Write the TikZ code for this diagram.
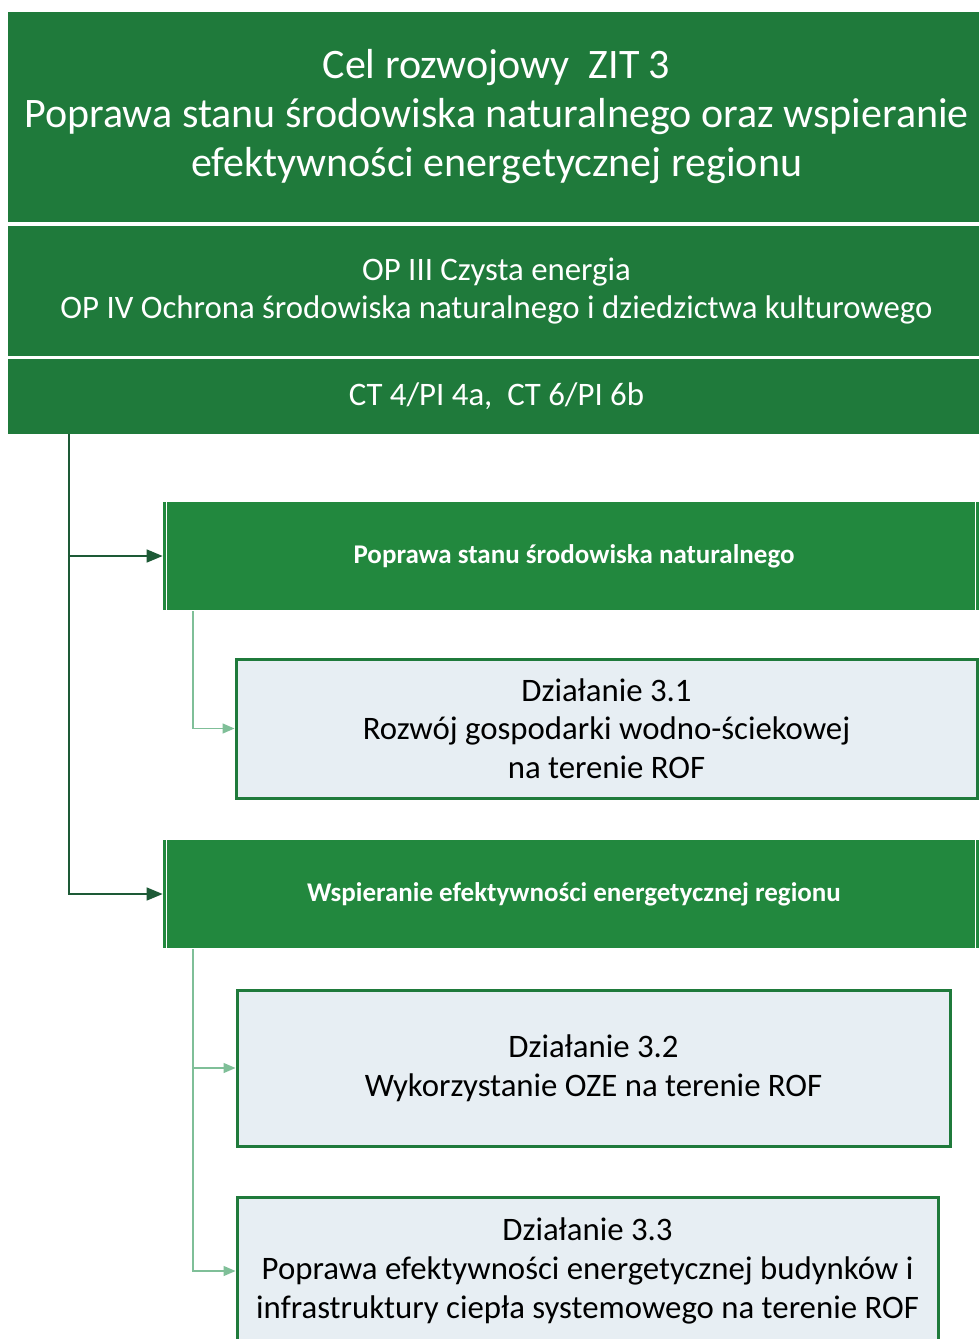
\documentclass[tikz,border=0pt]{standalone}
\usepackage{fontspec}
\setmainfont{Carlito}
\usetikzlibrary{arrows.meta,positioning}
\definecolor{zitgreen}{HTML}{1F7A3B}
\definecolor{goalgreen}{HTML}{22883E}
\definecolor{trunkgreen}{HTML}{1D5A36}
\definecolor{subgreen}{HTML}{7FBF98}
\definecolor{actionfill}{HTML}{E7EEF3}
\tikzstyle{header}=[
	rectangle,
	fill=zitgreen,
	text=white,
	align=center,
	inner sep=0pt,
	minimum width=488.5pt
]
\tikzstyle{goal}=[
	rectangle,
	fill=goalgreen,
	text=white,
	inner sep=0pt,
	font=\bfseries\fontsize{13.5}{16}\selectfont,
	minimum width=411pt,
	minimum height=54pt
]
\tikzstyle{action}=[
	rectangle,
	draw=zitgreen,
	line width=1.5pt,
	fill=actionfill,
	align=center,
	inner sep=0pt,
	font=\fontsize{16.4}{19.3}\selectfont
]
\tikzstyle{trunk}=[
	->,
	>={Triangle[length=8pt,width=6.5pt]},
	draw=trunkgreen,
	line width=0.8pt
]
\tikzstyle{branch}=[
	->,
	>={Triangle[length=6pt,width=5pt]},
	draw=subgreen,
	line width=0.7pt
]

\begin{document}
\begin{tikzpicture}[x=0.5pt,y=-0.5pt]
\clip (0,0) rectangle (979,1339);
\fill[white] (0,0) rectangle (979,1339);
% headers
\node [header, minimum height=105pt, font=\fontsize{21}{24.5}\selectfont] (cel) at (496.5,117)
	{Cel rozwojowy\ \ ZIT 3\\Poprawa stanu środowiska naturalnego oraz wspieranie\\efektywności energetycznej regionu};
\node [header, minimum height=65pt, font=\fontsize{16.4}{19}\selectfont] (op) at (496.5,291)
	{OP III Czysta energia\\OP IV Ochrona środowiska naturalnego i dziedzictwa kulturowego};
\node [header, minimum height=37.5pt, font=\fontsize{16.4}{19}\selectfont] (ct) at (496.5,396.5)
	{CT 4/PI 4a,\ \ CT 6/PI 6b};
% goals
\node [goal] (celA) at (574,556) {Poprawa stanu środowiska naturalnego};
\node [goal] (celB) at (574,894) {Wspieranie efektywności energetycznej regionu};
\foreach \g in {celA,celB} {
	\draw[white, line width=0.6pt] ([xshift=2pt]\g.north west) -- ([xshift=2pt]\g.south west);
	\draw[white, line width=0.6pt] ([xshift=-5pt]\g.north east) -- ([xshift=-5pt]\g.south east);
}
% actions
\node [action, minimum width=370.5pt, minimum height=69.5pt] (d31) at (606.5,728.5)
	{Działanie 3.1\\Rozwój gospodarki wodno-ściekowej\\na terenie ROF};
\node [action, minimum width=356.5pt, minimum height=78pt] (d32) at (593.5,1068)
	{Działanie 3.2\\Wykorzystanie OZE na terenie ROF};
\node [action, minimum width=350.5pt, minimum height=74pt] (d33) at (587.5,1271)
	{Działanie 3.3\\Poprawa efektywności energetycznej budynków i\\infrastruktury ciepła systemowego na terenie ROF};
% connectors
\coordinate (trunk) at (69,434);
\coordinate (subA) at (193,611);
\coordinate (subB) at (193,949);
\draw [trunk] (trunk) |- (celA.west);
\draw [trunk] (trunk) |- (celB.west);
\draw [branch] (subA) |- (d31.west);
\draw [branch] (subB) |- (d32.west);
\draw [branch] (subB) |- (d33.west);
\end{tikzpicture}
\end{document}
